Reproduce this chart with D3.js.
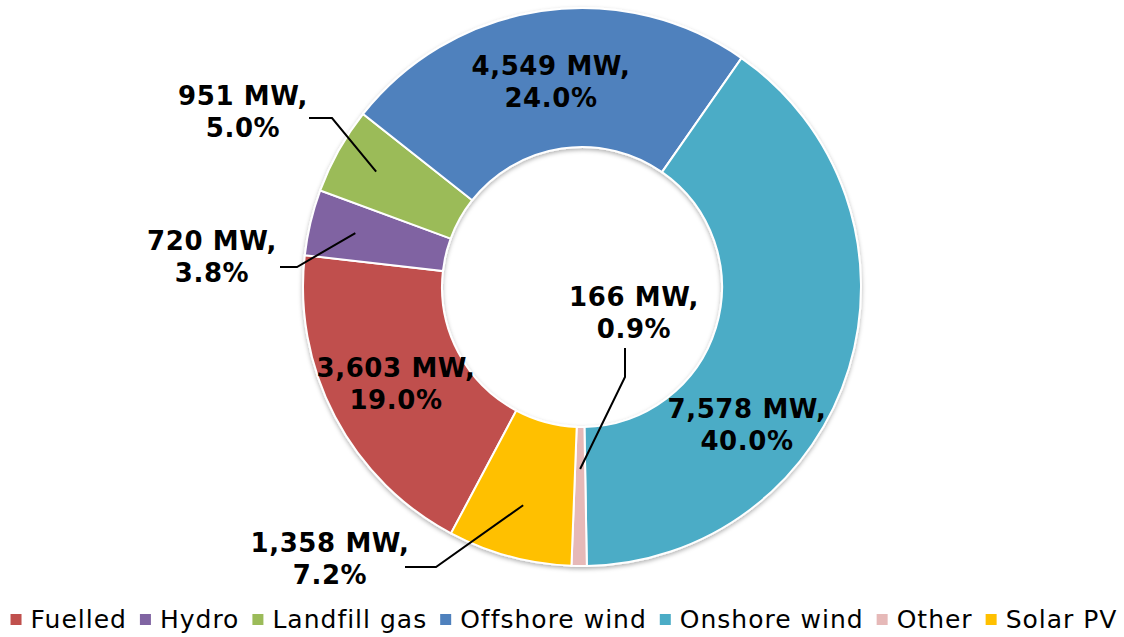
<!DOCTYPE html>
<html>
<head>
<meta charset="utf-8">
<script src="https://cdn.jsdelivr.net/npm/d3@7"></script>
<style>
    body { margin: 0; background: #fff; }
    text { font-family: "DejaVu Sans", Verdana, sans-serif; }
</style>
</head>
<body>
<div id="svg"></div>
<script>
const categories = ["Fuelled", "Hydro", "Landfill gas", "Offshore wind", "Onshore wind", "Other", "Solar PV"];
const capacityMW = [3603, 720, 951, 4549, 7578, 166, 1358];
const colours = ["#C0504D", "#8064A2", "#9BBB59", "#4F81BD", "#4BACC6", "#E6B9B8", "#FFC000"];

window.onload = function() {
    const width = 1124;
    const height = 637;
    const cx = 582;
    const cy = 287;
    const outerR = 279;
    const innerR = 140;
    const firstAngle = 208 * Math.PI / 180;

    // label placement relative to the centre: [dx, dy of first baseline]
    const labelAt = {
        "Fuelled": [-186, 90],
        "Hydro": [-370, -37],
        "Landfill gas": [-339, -182],
        "Offshore wind": [-31, -212],
        "Onshore wind": [165, 131],
        "Other": [52, 19],
        "Solar PV": [-252, 265]
    };
    // leader lines: start, elbow, then radius where it touches the slice
    const leaders = {
        "Hydro": [[-302, -20], [-285, -20], 233],
        "Landfill gas": [[-273, -169], [-250, -169], 236],
        "Solar PV": [[-177, 280], [-146, 280], 226],
        "Other": [[43, 61], [43, 90], 182]
    };

    const data = categories.map((c, i) => ({name: c, value: capacityMW[i], colour: colours[i]}));
    const total = d3.sum(capacityMW);
    const fmt = d3.format(",");

    const pie = d3.pie()
        .value(d => d.value)
        .sort(null)
        .startAngle(firstAngle)
        .endAngle(firstAngle + 2 * Math.PI);

    const arc = d3.arc().innerRadius(innerR).outerRadius(outerR);

    let svg = d3.select('#svg')
        .append('svg')
            .attr('width', width)
            .attr('height', height);

    const defs = svg.append('defs');
    defs.append('filter')
        .attr('id', 'shadow')
        .attr('x', '-10%').attr('y', '-10%')
        .attr('width', '120%').attr('height', '120%')
        .append('feDropShadow')
            .attr('dx', 0)
            .attr('dy', 2)
            .attr('stdDeviation', 2)
            .attr('flood-color', '#000')
            .attr('flood-opacity', 0.3);

    let g = svg.append('g')
        .attr('transform', `translate(${cx}, ${cy})`);

    const arcs = pie(data);

    g.append('g')
        .attr('filter', 'url(#shadow)')
        .selectAll('path')
        .data(arcs)
        .enter()
            .append('path')
                .attr('d', arc)
                .attr('fill', d => d.data.colour)
                .attr('stroke', '#fff')
                .attr('stroke-width', 2);

    // leader lines
    arcs.forEach(a => {
        const l = leaders[a.data.name];
        if (!l) return;
        const tip = d3.arc().innerRadius(l[2]).outerRadius(l[2]).centroid(a);
        g.append('path')
            .attr('d', d3.line()([l[0], l[1], tip]))
            .attr('fill', 'none')
            .attr('stroke', '#000')
            .attr('stroke-width', 2);
    });

    // data labels
    arcs.forEach(a => {
        const pos = labelAt[a.data.name];
        const t = g.append('text')
            .attr('text-anchor', 'middle')
            .attr('font-size', 26)
            .attr('font-weight', 'bold')
            .attr('letter-spacing', 0.6)
            .attr('fill', '#000');
        t.append('tspan')
            .attr('x', pos[0])
            .attr('y', pos[1])
            .text(fmt(a.data.value) + ' MW,');
        t.append('tspan')
            .attr('x', pos[0])
            .attr('y', pos[1] + 32)
            .text((a.data.value / total * 100).toFixed(1) + '%');
    });

    // legend
    let legend = svg.append('g');
    let x = 0;
    data.forEach(d => {
        const item = legend.append('g').attr('transform', `translate(${x}, 0)`);
        item.append('rect')
            .attr('x', 0)
            .attr('y', 614)
            .attr('width', 11)
            .attr('height', 11)
            .attr('fill', d.colour);
        const txt = item.append('text')
            .attr('x', 20)
            .attr('y', 628)
            .attr('font-size', 25)
            .attr('letter-spacing', 1)
            .attr('fill', '#000')
            .text(d.name);
        x += 20 + txt.node().getComputedTextLength() + 13;
    });
    const legendWidth = x - 13;
    legend.attr('transform', `translate(${(width - legendWidth) / 2 + 2}, 0)`);
};
</script>
</body>
</html>
